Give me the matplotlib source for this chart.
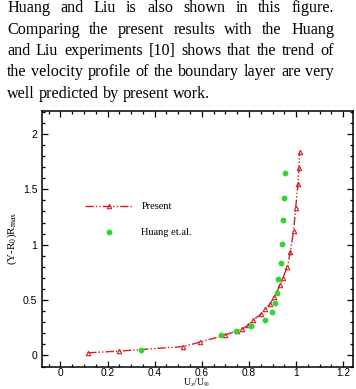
import matplotlib
matplotlib.use("Agg")
import matplotlib.pyplot as plt
from matplotlib.ticker import MultipleLocator

plt.rcParams['mathtext.fontset'] = 'custom'
plt.rcParams['mathtext.rm'] = 'Liberation Serif'
plt.rcParams['mathtext.it'] = 'Liberation Serif:italic'

# ---- data ----
present_u = [0.118, 0.249, 0.522, 0.591, 0.700, 0.748, 0.772, 0.797, 0.817, 0.850,
             0.870, 0.888, 0.906, 0.919, 0.930, 0.944, 0.963, 0.975, 0.989, 0.998,
             1.008, 1.012, 1.015]
present_y = [0.024, 0.039, 0.080, 0.120, 0.185, 0.222, 0.240, 0.272, 0.318, 0.372,
             0.420, 0.460, 0.525, 0.570, 0.635, 0.700, 0.800, 0.930, 1.120, 1.330,
             1.550, 1.690, 1.840]
huang_u = [0.344, 0.683, 0.747, 0.807, 0.870, 0.896, 0.910, 0.919, 0.925, 0.934,
           0.939, 0.944, 0.947, 0.953]
huang_y = [0.051, 0.180, 0.225, 0.270, 0.320, 0.390, 0.476, 0.563, 0.686, 0.839,
           1.006, 1.220, 1.426, 1.650]
x_ticks = [0, 0.2, 0.4, 0.6, 0.8, 1, 1.2]
x_ticklabels = ['0', '0.2', '0.4', '0.6', '0.8', '1', '1.2']
y_ticks = [0, 0.5, 1, 1.5, 2]
y_ticklabels = ['0', '0.5', '1', '1.5', '2']
labels = ['Present', 'Huang et.al.']
paragraph = [
    "Huang and Liu is also shown in this figure.",
    "Comparing the present results with the Huang",
    "and Liu experiments [10] shows that the trend of",
    "the velocity profile of the boundary layer are very",
    "well predicted by present work.",
]

W, H = 356, 389
fig = plt.figure(figsize=(W / 100, H / 100), dpi=100)
ax = fig.add_axes([41.5 / W, 1 - 366.5 / H, (352.7 - 41.5) / W, (366.5 - 110.7) / H])

red = '#d41f1f'
ax.plot(present_u, present_y, color=red, lw=1.0,
        linestyle=(0, (6, 1.5, 1, 1.5, 1, 1.5)),
        marker='^', ms=3.2, mfc='none', mec=red, mew=0.8, label=labels[0])
ax.plot(huang_u, huang_y, linestyle='none', marker='o', ms=3.2,
        color='#2fd82f', mec='#2fd82f', label=labels[1])

ax.set_xlim(-0.08, 1.24)
ax.set_ylim(-0.1, 2.21)
ax.set_xticks(x_ticks)
ax.set_xticklabels(x_ticklabels)
ax.set_yticks(y_ticks)
ax.set_yticklabels(y_ticklabels)
ax.xaxis.set_minor_locator(MultipleLocator(0.05))
ax.yaxis.set_minor_locator(MultipleLocator(0.1))
ax.tick_params(which='both', direction='in', top=True, right=True,
               labelsize=7.5, width=0.9, colors='black')
ax.tick_params(which='major', length=4.5, pad=3)
ax.tick_params(axis='x', which='major', pad=1.0, labelsize=7.3)
ax.tick_params(which='minor', length=2.5)
for lab in ax.get_xticklabels() + ax.get_yticklabels():
    lab.set_family('Liberation Sans')
for s in ax.spines.values():
    s.set_linewidth(1.1)

ax.set_ylabel(r'(Y-R$_0$)R$_{\mathrm{max}}$', family='Liberation Serif', fontsize=8, labelpad=3)
# x label placed against the bottom edge of the figure (as in the reference)
fig.text((41.5 + 352.7) / 2 / W - 0.002, 0.3 / H, r'U$_x$/U$_\infty$',
         family='Liberation Serif', fontsize=7.0, ha='center', va='bottom')

leg = ax.legend(loc='upper left', bbox_to_anchor=(0.11, 0.68), frameon=False,
                handlelength=4.6, handletextpad=0.8, labelspacing=1.6,
                prop={'family': 'Liberation Serif', 'size': 7.5})

# ---- justified paragraph at top ----
fig.canvas.draw()
r = fig.canvas.get_renderer()
left, right = 7, 334
base0 = 12.0
step = 21.5
fs = 11.6
for i, line in enumerate(paragraph):
    words = line.split(' ')
    ts = [fig.text(0, 0, w, family='Liberation Serif', fontsize=fs, va='baseline', ha='left')
          for w in words]
    widths = [t.get_window_extent(r).width for t in ts]
    y = 1 - (base0 + i * step) / H
    if i < len(paragraph) - 1 and len(words) > 1:
        gap = (right - left - sum(widths)) / (len(words) - 1)
    else:
        sp = fig.text(0, 0, 'a a', family='Liberation Serif', fontsize=fs)
        sp2 = fig.text(0, 0, 'aa', family='Liberation Serif', fontsize=fs)
        gap = sp.get_window_extent(r).width - sp2.get_window_extent(r).width
        sp.remove(); sp2.remove()
    x = left
    for t, w in zip(ts, widths):
        t.set_position((x / W, y))
        x += w + gap

fig.savefig('out.png', dpi=100)
